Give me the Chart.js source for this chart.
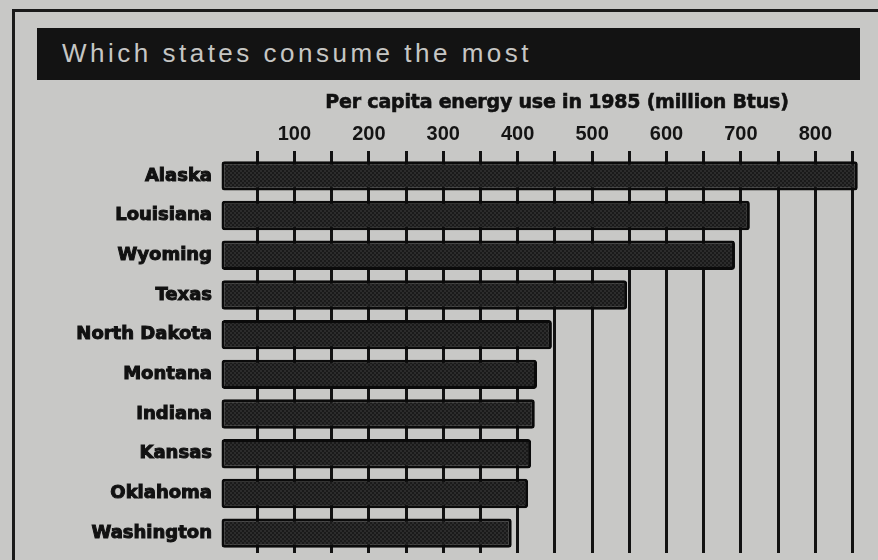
<!DOCTYPE html>
<html><head><meta charset="utf-8">
<script src="https://cdn.jsdelivr.net/npm/chart.js@4"></script>
<style>
html,body{margin:0;padding:0;background:#c8c8c6;}
#wrap{position:relative;width:878px;height:560px;overflow:hidden;background:#c8c8c6;}
#frameTop{position:absolute;left:12px;top:9px;width:866px;height:3px;background:#1a1a1a;}
#frameLeft{position:absolute;left:12px;top:9px;width:3px;height:551px;background:#1a1a1a;}
#titlebar{position:absolute;left:37px;top:28px;width:823px;height:52px;background:#131313;}
#title{position:absolute;left:62px;top:27px;height:52px;line-height:52px;color:#c6c6c4;font-family:'Liberation Sans',Arial,sans-serif;font-size:26px;letter-spacing:3.5px;white-space:nowrap;}
#axisTitle{position:absolute;left:557px;top:89px;transform:translateX(-50%);white-space:nowrap;color:#111;font-family:'DejaVu Sans',sans-serif;font-weight:bold;font-size:19px;line-height:24px;-webkit-text-stroke:0.6px #111;letter-spacing:-0.2px;}
#c{position:absolute;left:0;top:0;}
</style></head>
<body><div id="wrap">
<div id="frameTop"></div><div id="frameLeft"></div>
<div id="titlebar"></div><div id="title">Which states consume the most</div>
<canvas id="c" width="878" height="560"></canvas>
<div id="axisTitle"></div>
</div>
<script>
const states = ['Alaska','Louisiana','Wyoming','Texas','North Dakota','Montana','Indiana','Kansas','Oklahoma','Washington'];
const energyUse = [857, 712, 692, 547, 446, 426, 423, 418, 414, 392];
const tickLabels = [100, 200, 300, 400, 500, 600, 700, 800];
const axisTitle = 'Per capita energy use in 1985 (million Btus)';

document.getElementById('axisTitle').textContent = axisTitle;

function makePattern(){
  const p = document.createElement('canvas');
  p.width = 4; p.height = 4;
  const g = p.getContext('2d');
  g.fillStyle = '#2c2c2c'; g.fillRect(0,0,4,4);
  g.fillStyle = '#1a1a1a';
  g.fillRect(0,0,2,2); g.fillRect(2,2,2,2);
  return g.createPattern(p,'repeat');
}

const ctx = document.getElementById('c').getContext('2d');
new Chart(ctx, {
  type: 'bar',
  data: {
    labels: states,
    datasets: [{
      data: energyUse,
      backgroundColor: makePattern(),
      borderColor: '#0a0a0a',
      borderWidth: 3,
      borderRadius: 3,
      borderSkipped: false,
      barPercentage: 0.74,
      categoryPercentage: 1.0
    }]
  },
  options: {
    indexAxis: 'y',
    responsive: false,
    animation: false,
    events: [],
    layout: { padding: { left: 0, right: 18, top: 85, bottom: 7 } },
    plugins: { legend: { display: false }, tooltip: { enabled: false }, title: { display: false } },
    scales: {
      x: {
        position: 'top',
        min: 0, max: 860,
        border: { display: false },
        afterFit: s => { s.height = 71; },
        grid: {
          color: c => (c.tick && c.tick.value === 0) ? 'rgba(0,0,0,0)' : '#121212',
          lineWidth: 3,
          drawTicks: true,
          tickLength: 5
        },
        ticks: {
          stepSize: 50,
          includeBounds: false,
          autoSkip: false,
          maxRotation: 0,
          padding: 5,
          color: '#141414',
          font: { family: "'Liberation Sans Narrow','Liberation Sans',sans-serif", size: 20, weight: 'bold' },
          callback: v => tickLabels.includes(v) ? String(v) : ''
        }
      },
      y: {
        afterFit: s => { s.width = 220; s.paddingTop = 0; s.paddingBottom = 0; },
        border: { display: false },
        grid: { display: false },
        ticks: {
          padding: 0,
          color: '#111',
          textStrokeColor: '#111',
          textStrokeWidth: 1,
          font: { family: "'DejaVu Sans',sans-serif", size: 18, weight: 'bold' }
        }
      }
    }
  }
});
</script>
</body></html>
